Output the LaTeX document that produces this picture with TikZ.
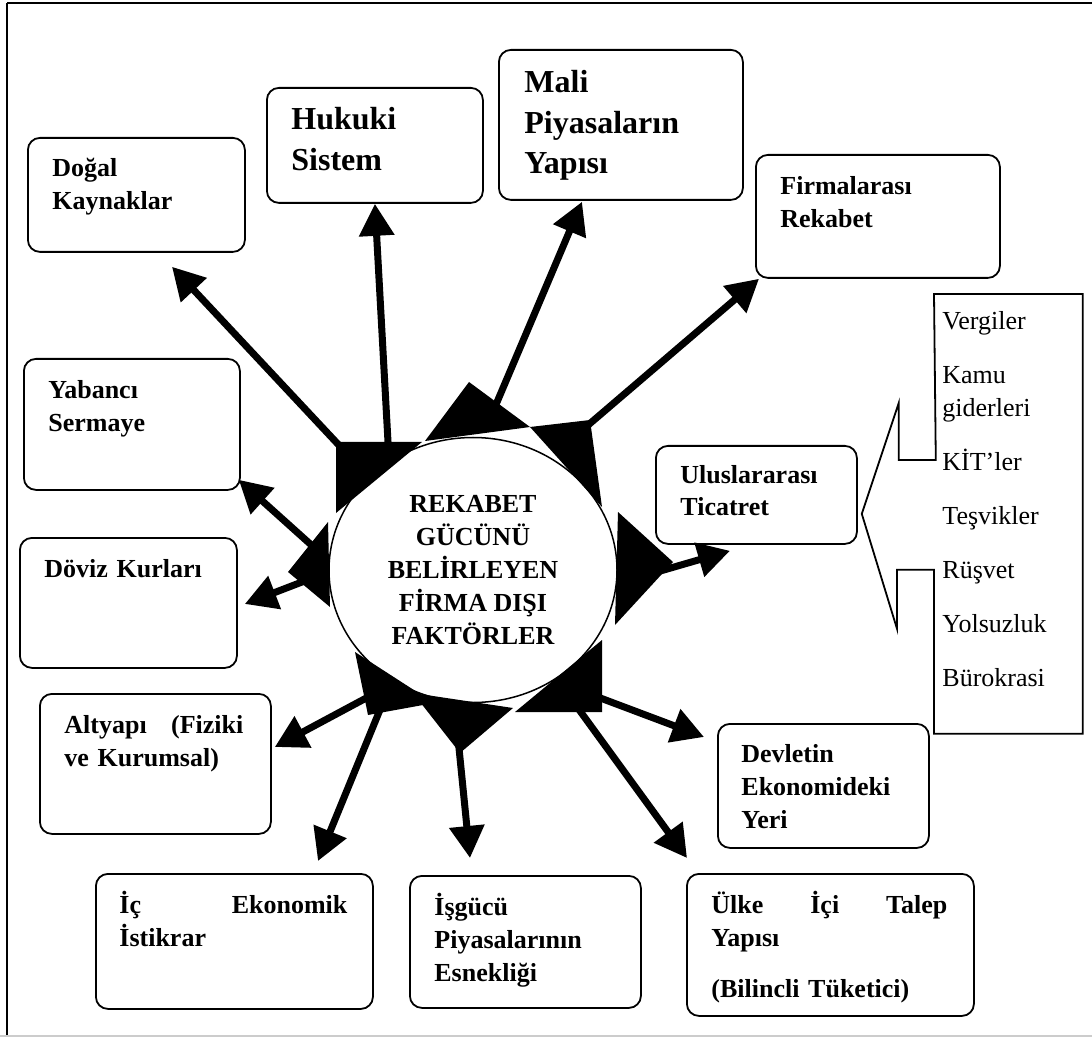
\documentclass[tikz,border=0pt]{standalone}
\usepackage{fontspec}
\setmainfont{Liberation Serif}
\usetikzlibrary{arrows.meta,shapes.geometric}

\newcommand{\yasla}[2]{\hbox to #1{#2}}

\begin{document}
\begin{tikzpicture}[x=0.5pt, y=-0.5pt,
  kutu/.style={draw, line width=0.9pt, rounded corners=6pt, anchor=north west, inner sep=0pt},
  yazi/.style={anchor=base west, inner sep=0pt, text width=125pt, align=left, font=\fontsize{13}{16.5}\selectfont\bfseries},
  buyuk/.style={font=\fontsize{16}{20.25}\selectfont\bfseries},
  ok/.style={line width=3.5pt, -{Triangle[length=16pt,width=17pt]}}]
\useasboundingbox (0,0) rectangle (1092,1037);
% frame
\draw[line width=1.3pt] (1092,3) -- (7,3);
\draw[line width=0.8pt] (7,3) -- (7,1037);
\draw[black!20, line width=0.6pt] (0,1036) -- (1092,1036);

% boxes
\node[kutu, minimum width=108.5pt, minimum height=57pt] (dogal) at (27,137) {};
\node[yazi] (dogal-y) at ([shift={(25,40)}]dogal.north west) {Doğal\\Kaynaklar};
\node[kutu, minimum width=108pt, minimum height=57.5pt] (hukuki) at (266,87) {};
\node[yazi, buyuk] (hukuki-y) at ([shift={(25,43)}]hukuki.north west) {Hukuki\\Sistem};
\node[kutu, minimum width=122pt, minimum height=75pt] (mali) at (498,49) {};
\node[yazi, buyuk] (mali-y) at ([shift={(26,44)}]mali.north west) {Mali\\Piyasaların\\Yapısı};
\node[kutu, minimum width=122pt, minimum height=61.5pt] (firma) at (755,154) {};
\node[yazi] (firma-y) at ([shift={(25,41)}]firma.north west) {Firmalarası\\Rekabet};
\node[kutu, minimum width=108pt, minimum height=65.5pt] (yabanci) at (23,358) {};
\node[yazi] (yabanci-y) at ([shift={(25,41)}]yabanci.north west) {Yabancı\\Sermaye};
\node[kutu, minimum width=108.5pt, minimum height=65pt] (doviz) at (19,537) {};
\node[yazi] (doviz-y) at ([shift={(25,40)}]doviz.north west) {Döviz Kurları};
\node[kutu, minimum width=115.5pt, minimum height=70pt] (altyapi) at (39,693) {};
\node[yazi] (altyapi-y) at ([shift={(25,40)}]altyapi.north west) {\yasla{89.5pt}{Altyapı\hfill(Fiziki}\\ve Kurumsal)};
\node[kutu, minimum width=138.5pt, minimum height=67.5pt] (ic) at (95,873) {};
\node[yazi] (ic-y) at ([shift={(24,40)}]ic.north west) {\yasla{114pt}{İç\hfill Ekonomik}\\İstikrar};
\node[kutu, minimum width=115.5pt, minimum height=66pt] (isgucu) at (409,875) {};
\node[yazi] (isgucu-y) at ([shift={(25,40)}]isgucu.north west) {İşgücü\\Piyasalarının\\Esnekliği};
\node[kutu, minimum width=143.5pt, minimum height=71pt] (ulke) at (686,873) {};
\node[yazi] (ulke-y) at ([shift={(25,40)}]ulke.north west) {\yasla{118pt}{Ülke\hfill İçi\hfill Talep}\\Yapısı\\[9pt](Bilincli Tüketici)};
\node[kutu, minimum width=105.5pt, minimum height=62pt] (devlet) at (717,723) {};
\node[yazi] (devlet-y) at ([shift={(24,39)}]devlet.north west) {Devletin\\Ekonomideki\\Yeri};
\node[kutu, minimum width=100.5pt, minimum height=49pt] (ulus) at (655,445) {};
\node[yazi] (ulus-y) at ([shift={(25,38)}]ulus.north west) {Uluslararası\\Ticatret};

% callout with the list
\node[anchor=north west, inner sep=0pt, minimum width=74pt, minimum height=219.5pt] (liste) at (934,294) {};
\coordinate (ucu) at ([shift={(4,19)}]ulus.east);
\draw[line width=0.9pt] (liste.north west) -- (liste.north east) -- (liste.south east) -- (liste.south west)
  -- ++(0,-164) -- ++(-37,0) -- ++(0,59) -- (ucu) -- ++(37,-111) -- ++(0,57) -- ++(37,0) -- cycle;
\node[yazi, font=\fontsize{13}{16.5}\selectfont] (kalemler) at ([shift={(8,36)}]liste.north west)
  {Vergiler\\[10.5pt]Kamu\\giderleri\\[10.5pt]KİT’ler\\[10.5pt]Teşvikler\\[10.5pt]Rüşvet\\[10.5pt]Yolsuzluk\\[10.5pt]Bürokrasi};

% centre
\node[ellipse, draw, fill=white, line width=0.75pt, minimum width=144pt, minimum height=132.5pt, inner sep=0pt,
  align=center, font=\fontsize{13}{16.5}\selectfont\bfseries] (merkez) at (473,570)
  {REKABET\\GÜCÜNÜ\\BELİRLEYEN\\FİRMA DIŞI\\FAKTÖRLER};

% arrows
\coordinate (k1) at (350,457);
\coordinate (k2) at (389,460);
\coordinate (k3) at (489,421);
\coordinate (k4) at (573,438);
\coordinate (k5) at (650,574);
\coordinate (k6) at (595,696);
\coordinate (k7) at (572,700);
\coordinate (k8) at (458,738);
\coordinate (k9) at (384,700);
\coordinate (k10) at (370,696);
\coordinate (k11) at (315,577);
\coordinate (k12) at (318,551);
\draw[ok] (k1) -- ([shift={(145,14)}]dogal.south west);
\draw[ok] (k2) -- (hukuki.south);
\draw[ok] (k3) -- ([shift={(84,1)}]mali.south west);
\draw[ok] (k4) -- ([shift={(4,0)}]firma.south west);
\draw[ok] (k5) -- ([shift={(75,6)}]ulus.south west);
\draw[ok] (k6) -- ([shift={(-13,14)}]devlet.north west);
\draw[ok] (k7) -- ([shift={(1,-15)}]ulke.north west);
\draw[ok] (k8) -- ([shift={(61,-17)}]isgucu.north west);
\draw[ok] (k9) -- ([shift={(223,-12)}]ic.north west);
\draw[ok] (k10) -- ([shift={(3,54)}]altyapi.north east);
\draw[ok] (k11) -- ([shift={(7,67)}]doviz.north east);
\draw[ok] (k12) -- ([shift={(-2,-11)}]yabanci.south east);

% star points round the centre
\fill (336,442) -- (422,442) -- (336,513) -- cycle;
\fill (469,382) -- (425,441) -- (530,427) -- cycle;
\fill (530,427) -- (590,420) -- (602,507) -- cycle;
\fill (673,562) -- (618,512) -- (615,625) -- cycle;
\fill (602,712) -- (602,640) -- (515,712) -- cycle;
\fill (460,753) -- (413,693) -- (513,708) -- cycle;
\fill (368,715) -- (355,652) -- (434,703) -- cycle;
\fill (288,572) -- (328,522) -- (330,607) -- cycle;
\end{tikzpicture}
\end{document}
